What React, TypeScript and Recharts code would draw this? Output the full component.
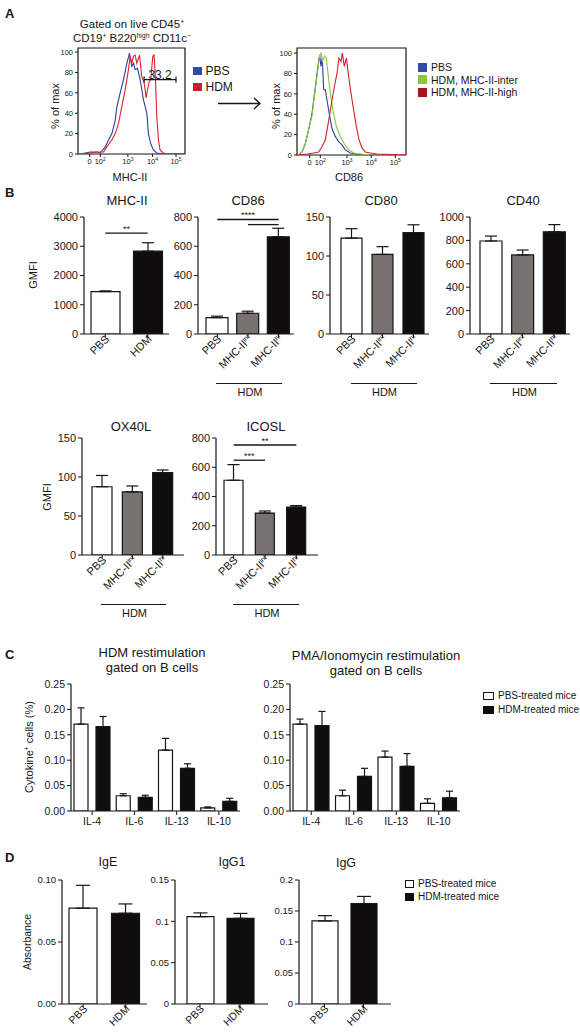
import { BarChart, Bar, XAxis, YAxis, ErrorBar, Cell, ReferenceLine, ReferenceArea, LineChart, Line } from "recharts"

const FONT = "'Liberation Sans', Arial, Helvetica, sans-serif"
const INK = "#161616"
const WHITE = "#ffffff"
const GREY = "#77716f"
const BLACK = "#0f0e0c"

// ---------- A: flow histograms ----------
// x = position along the biexponential axis (0-100 of plot width), y = % of max
const logLabels = ["0", "2", "3", "4", "5"]
const mhcTickPos = [10.9, 20.8, 46.6, 69.6, 91.6]
const cd86TickPos = [11.6, 21.4, 45.9, 68.0, 90.2]
const pctTicks = [0, 20, 40, 60, 80, 100]

const mhcPbsX = [0, 2.2, 11.5, 17.7, 20.8, 25.5, 28.6, 31.7, 34.8, 36.3, 39.4, 42.5, 45.7, 48.1, 50.3, 51.9, 53.4, 55.6, 58.1, 61.2, 64.3, 65.8, 68.0, 70.5, 73.6, 79.8, 100]
const mhcPbsY = [0, 0, 2, 2, 1, 7, 14, 20, 33, 46, 60, 73, 89, 99, 86, 89, 83, 84, 73, 53, 40, 20, 10, 4, 1, 0, 0]
const mhcHdmX = [0, 2.2, 11.5, 17.7, 23.9, 27.0, 31.7, 34.8, 37.9, 41.0, 44.1, 47.2, 48.8, 50.3, 51.9, 53.4, 55.0, 57.5, 59.6, 61.8, 63.7, 64.9, 66.5, 68.0, 69.9, 71.1, 72.4, 73.6, 75.2, 76.7, 79.8, 82.9, 100]
const mhcHdmY = [0, 0, 1, 2, 2, 7, 14, 20, 30, 47, 63, 83, 96, 89, 96, 97, 89, 97, 76, 70, 55, 63, 71, 73, 96, 97, 73, 37, 14, 4, 1, 0, 0]

const cdPbsX = [0, 1.5, 4.6, 7.6, 10.7, 13.8, 15.3, 17.7, 19.9, 20.8, 22.0, 23.2, 24.5, 26.0, 27.5, 30.0, 32.1, 35.2, 38.2, 41.3, 44.3, 48.9, 55.0, 64.2, 100]
const cdPbsY = [0, 0, 3, 11, 25, 41, 54, 74, 93, 98, 87, 95, 64, 64, 54, 38, 26, 18, 13, 10, 5, 2, 1, 0, 0]
const cdIntX = [0, 1.5, 4.6, 7.6, 10.7, 13.8, 15.9, 18.3, 20.8, 22.0, 23.5, 25.1, 26.9, 29.1, 30.6, 33.0, 36.1, 39.8, 43.4, 47.4, 52.0, 58.1, 67.3, 100]
const cdIntY = [0, 0, 3, 11, 25, 39, 57, 77, 98, 100, 92, 97, 95, 74, 61, 44, 28, 18, 11, 5, 2, 1, 0, 0]
const cdHiX = [0, 1.5, 9.2, 15.3, 19.9, 22.9, 26.0, 29.1, 32.1, 34.3, 36.7, 38.5, 40.4, 41.6, 43.4, 45.3, 47.4, 49.5, 52.0, 54.4, 56.9, 59.6, 62.7, 67.3, 73.4, 100]
const cdHiY = [0, 0, 1, 2, 3, 8, 15, 34, 54, 67, 80, 95, 92, 100, 87, 95, 77, 61, 44, 28, 15, 7, 3, 2, 1, 0]

const gateFrom = 61.8
const gateTo = 91.6
const gateAt = 73
const gateLabel = "33.2"

// ---------- B: GMFI ----------
const twoCats = ["PBS", "HDM"]
const threeCats = ["PBS", "MHC-II|int", "MHC-II|hi"]
const fill2 = [WHITE, BLACK]
const fill3 = [WHITE, GREY, BLACK]

const mhcMean = [1450, 2830]
const mhcSem = [25, 290]
const cd86Mean = [112, 142, 665]
const cd86Sem = [10, 14, 58]
const cd80Mean = [123, 102, 130]
const cd80Sem = [12, 10, 10]
const cd40Mean = [795, 676, 873]
const cd40Sem = [42, 42, 62]
const ox40Mean = [87.5, 81, 105.5]
const ox40Sem = [14.5, 7.5, 3.5]
const icosMean = [511, 287, 328]
const icosSem = [107, 14, 10]

// ---------- C: cytokine+ B cells ----------
const ilCats = ["IL-4", "IL-6", "IL-13", "IL-10"]
const hdmRePbs = [0.171, 0.030, 0.120, 0.006]
const hdmRePbsSem = [0.032, 0.004, 0.023, 0.002]
const hdmReHdm = [0.166, 0.027, 0.084, 0.019]
const hdmReHdmSem = [0.020, 0.004, 0.009, 0.006]
const pmaRePbs = [0.171, 0.030, 0.106, 0.015]
const pmaRePbsSem = [0.010, 0.011, 0.012, 0.009]
const pmaReHdm = [0.168, 0.068, 0.088, 0.026]
const pmaReHdmSem = [0.028, 0.016, 0.025, 0.013]
const cTicks = [0, 0.05, 0.1, 0.15, 0.2, 0.25]

// ---------- D: absorbance ----------
const igeMean = [0.0773, 0.0732]
const igeSem = [0.0184, 0.0075]
const igg1Mean = [0.1056, 0.1036]
const igg1Sem = [0.0046, 0.006]
const iggMean = [0.134, 0.162]
const iggSem = [0.0085, 0.0115]

const pts = (xs: number[], ys: number[]) => xs.map((x, i) => ({ x, y: ys[i] }))

function Txt({ x, y, s = 11, left = false, rot = 0, bold = false, children }: any) {
    return (
        <div style={{
            position: "absolute", left: x, top: y, fontSize: s, fontWeight: bold ? 700 : 400, lineHeight: 1,
            whiteSpace: "nowrap", transform: `translate(${left ? "0" : "-50%"},-50%) rotate(${rot}deg)`
        }}>{children}</div>
    )
}
const Sup = ({ children }: any) => <span style={{ fontSize: "0.6em", position: "relative", top: "-0.55em" }}>{children}</span>

function Key({ x, y, color, label, s = 11, size = 8, w = size, border = false }: any) {
    return (
        <>
            <div style={{
                position: "absolute", left: x, top: y - size / 2, width: w, height: size, background: color,
                boxSizing: "border-box", border: border ? `1px solid ${INK}` : "none"
            }} />
            <Txt x={x + w + 4} y={y} s={s} left>{label}</Txt>
        </>
    )
}

const powTick = (pos: number[]) => (props: any) => {
    const { x, y, payload } = props
    const e = logLabels[pos.indexOf(payload.value)]
    return (
        <text x={x} y={y + 5} textAnchor="middle" fontSize={7.5} fill={INK} fontFamily={FONT}>
            {e === "0" ? "0" : <>10<tspan fontSize={5} dy={-3}>{e}</tspan></>}
        </text>
    )
}

function Histo({ plot, yTop, tickPos, curves, withGate = false }: any) {
    const [x, y, w, h] = plot
    const L = 26, T = 4, R = 4, B = 18
    return (
        <div style={{ position: "absolute", left: x - L, top: y - T }}>
            <LineChart width={L + w + R} height={T + h + B} margin={{ top: T, right: R, bottom: 0, left: 0 }}>
                <XAxis type="number" dataKey="x" domain={[0, 100]} ticks={tickPos} tick={powTick(tickPos)} tickSize={3}
                    axisLine={false} tickLine={{ stroke: INK }} height={B} interval={0} allowDataOverflow />
                <YAxis type="number" domain={[0, yTop]} ticks={pctTicks} width={L} tickSize={3} axisLine={false}
                    tickLine={{ stroke: INK }} tick={{ fontSize: 7.5, fill: INK, fontFamily: FONT }} interval={0} allowDataOverflow />
                <ReferenceArea x1={0} x2={100} y1={0} y2={yTop} fill="none" stroke={INK} strokeWidth={1.2} />
                {curves.map((c: any) => (
                    <Line key={c.name} data={c.data} dataKey="y" type="linear" stroke={c.color} strokeWidth={1.1}
                        dot={false} isAnimationActive={false} />
                ))}
                {withGate && <>
                    <ReferenceLine segment={[{ x: gateFrom, y: gateAt }, { x: gateTo, y: gateAt }]} stroke={INK} strokeWidth={1.3}
                        label={{ value: gateLabel, position: "top", fontSize: 12, fill: INK, offset: 1 }} />
                    <ReferenceLine segment={[{ x: gateFrom, y: gateAt - 3 }, { x: gateFrom, y: gateAt + 3 }]} stroke={INK} strokeWidth={1.2} />
                    <ReferenceLine segment={[{ x: gateTo, y: gateAt - 3 }, { x: gateTo, y: gateAt + 3 }]} stroke={INK} strokeWidth={1.2} />
                </>}
            </LineChart>
        </div>
    )
}

const rotTick = (fs: number) => (props: any) => {
    const { x, y, payload } = props
    const [base, sup] = String(payload.value).split("|")
    return (
        <g transform={`translate(${x + 2},${y - 1})`}>
            <text transform="rotate(-45)" textAnchor="end" fontSize={fs} fill={INK} fontFamily={FONT} dy="0.35em">
                {base}{sup && <tspan fontSize={fs * 0.6} dy={-fs * 0.35}>{sup}</tspan>}
            </text>
        </g>
    )
}

type Group = { values: number[]; sem: number[]; fills: string[] }
type Sig = { from: number; to: number; y: number; stars: string }

function BarPanel(p: {
    plot: number[]; cats: string[]; groups: Group[]; yMax: number; yTicks: number[]; fmt?: (v: number) => string
    barSize: number; barGap?: number; padL?: number; padR?: number; rotate?: boolean; sig?: Sig[]
    cap?: number; tickFs?: number; catFs?: number; hdm?: boolean
}) {
    const [x, y, w, h] = p.plot
    const L = 44, T = 12, R = 8, B = 70
    const padL = p.padL ?? 0, padR = p.padR ?? 0
    const data = p.cats.map((c, i) => {
        const row: Record<string, any> = { cat: c }
        p.groups.forEach((g, j) => { row["v" + j] = g.values[i]; row["e" + j] = [0, g.sem[i]] })
        return row
    })
    const band = (w - padL - padR) / p.cats.length
    const mid = (i: number) => x + padL + band * (i + 0.5)
    const tickFs = p.tickFs ?? 11
    const catFs = p.catFs ?? 11
    return (
        <>
            <div style={{ position: "absolute", left: x - L, top: y - T }}>
                <BarChart width={L + w + R} height={T + h + B} data={data} margin={{ top: T, right: R, bottom: 0, left: 0 }}
                    barGap={p.barGap ?? 4}>
                    <XAxis dataKey="cat" type="category" interval={0} height={B} tickSize={4} tickMargin={p.rotate ? 0 : 3}
                        padding={{ left: padL, right: padR }}
                        axisLine={{ stroke: INK, strokeWidth: 1.2 }} tickLine={{ stroke: INK }}
                        tick={p.rotate ? rotTick(catFs) : { fontSize: catFs, fill: INK, fontFamily: FONT }} />
                    <YAxis type="number" domain={[0, p.yMax]} ticks={p.yTicks} tickFormatter={p.fmt} width={L} interval={0}
                        tickSize={4} tickMargin={2} allowDataOverflow axisLine={{ stroke: INK, strokeWidth: 1.2 }}
                        tickLine={{ stroke: INK }} tick={{ fontSize: tickFs, fill: INK, fontFamily: FONT }} />
                    {p.groups.map((g, j) => (
                        <Bar key={j} dataKey={"v" + j} barSize={p.barSize} stroke={INK} strokeWidth={1.2} isAnimationActive={false}>
                            {p.cats.map((c, i) => <Cell key={c} fill={g.fills[i]} />)}
                            <ErrorBar dataKey={"e" + j} direction="y" width={p.cap ?? 6} stroke={INK} strokeWidth={1.2} />
                        </Bar>
                    ))}
                    {(p.sig ?? []).map((s, k) => (
                        <ReferenceLine key={k} segment={[{ x: p.cats[s.from], y: s.y }, { x: p.cats[s.to], y: s.y }]}
                            stroke={INK} strokeWidth={1.3}
                            label={s.stars ? { value: s.stars, position: "top", fontSize: 9, fill: INK, offset: 1 } : undefined} />
                    ))}
                </BarChart>
            </div>
            {p.hdm && <>
                <div style={{ position: "absolute", left: mid(0) - 1, top: y + h + 49, width: mid(2) - mid(0) + 4, borderTop: `1px solid ${INK}` }} />
                <Txt x={(mid(0) + mid(2)) / 2 + 2} y={y + h + 58} s={11}>HDM</Txt>
            </>}
        </>
    )
}

const one = (values: number[], sem: number[], fills: string[]): Group[] => [{ values, sem, fills }]
const pair = (a: number[], aSem: number[], b: number[], bSem: number[]): Group[] => [
    { values: a, sem: aSem, fills: a.map(() => WHITE) },
    { values: b, sem: bSem, fills: b.map(() => BLACK) },
]

export default function App() {
    return (
        <div style={{ position: "absolute", left: 0, top: 0, width: 580, height: 1035, background: "#fff", fontFamily: FONT, color: INK, overflow: "hidden" }}>
            {/* A */}
            <Txt x={5} y={12.5} s={13} bold left>A</Txt>
            <Txt x={132} y={25} s={11.5}>Gated on live CD45<Sup>+</Sup></Txt>
            <Txt x={132} y={38.5} s={11.5}>CD19<Sup>+</Sup> B220<Sup>high</Sup> CD11c<Sup>−</Sup></Txt>
            <Histo plot={[78, 48, 107, 106]} yTop={104} tickPos={mhcTickPos} withGate
                curves={[
                    { name: "PBS", color: "#2c3f9f", data: pts(mhcPbsX, mhcPbsY) },
                    { name: "HDM", color: "#e0232b", data: pts(mhcHdmX, mhcHdmY) },
                ]} />
            <Txt x={55} y={106} s={11} rot={-90}>% of max</Txt>
            <Txt x={130} y={177} s={11}>MHC-II</Txt>
            <Key x={193} y={71} color="#2f4da6" label="PBS" s={12} size={8.5} />
            <Key x={193} y={87} color="#c4202a" label="HDM" s={12} size={8.5} />
            <svg style={{ position: "absolute", left: 214, top: 96 }} width={50} height={16}>
                <line x1={4} y1={7.5} x2={46} y2={7.5} stroke={INK} strokeWidth={1.3} />
                <polyline points="40,2 46,7.5 40,13" fill="none" stroke={INK} strokeWidth={1.3} />
            </svg>
            <Histo plot={[297, 48, 109, 107]} yTop={105} tickPos={cd86TickPos}
                curves={[
                    { name: "PBS", color: "#2c3f9f", data: pts(cdPbsX, cdPbsY) },
                    { name: "inter", color: "#8cc63f", data: pts(cdIntX, cdIntY) },
                    { name: "high", color: "#d42129", data: pts(cdHiX, cdHiY) },
                ]} />
            <Txt x={276} y={106} s={11} rot={-90}>% of max</Txt>
            <Txt x={349} y={177} s={11}>CD86</Txt>
            <Key x={418} y={67} color="#2f4da6" label="PBS" s={10.5} size={9} />
            <Key x={418} y={79.5} color="#8cc63f" label="HDM, MHC-II-inter" s={10.5} size={9} />
            <Key x={418} y={92} color="#a3151d" label="HDM, MHC-II-high" s={10.5} size={9} />

            {/* B */}
            <Txt x={5} y={192} s={13} bold left>B</Txt>
            <Txt x={127} y={200} s={13}>MHC-II</Txt>
            <Txt x={248} y={200} s={13}>CD86</Txt>
            <Txt x={381} y={200} s={13}>CD80</Txt>
            <Txt x={523} y={200} s={13}>CD40</Txt>
            <Txt x={33} y={275} s={11} rot={-90}>GMFI</Txt>
            <BarPanel plot={[84, 217, 85, 117]} cats={twoCats} groups={one(mhcMean, mhcSem, fill2)} yMax={4000}
                yTicks={[0, 1000, 2000, 3000, 4000]} barSize={29} rotate sig={[{ from: 0, to: 1, y: 3450, stars: "**" }]} />
            <BarPanel plot={[198, 217, 96, 117]} cats={threeCats} groups={one(cd86Mean, cd86Sem, fill3)} yMax={800}
                yTicks={[0, 200, 400, 600, 800]} barSize={22} padL={4} rotate hdm
                sig={[{ from: 0, to: 2, y: 783, stars: "****" }, { from: 1, to: 2, y: 748, stars: "" }]} />
            <BarPanel plot={[330, 217, 99, 117]} cats={threeCats} groups={one(cd80Mean, cd80Sem, fill3)} yMax={150}
                yTicks={[0, 50, 100, 150]} barSize={21} padL={6} rotate hdm />
            <BarPanel plot={[470, 217, 100, 117]} cats={threeCats} groups={one(cd40Mean, cd40Sem, fill3)} yMax={1000}
                yTicks={[0, 200, 400, 600, 800, 1000]} barSize={22} padL={5} rotate hdm />

            <Txt x={131} y={426} s={13}>OX40L</Txt>
            <Txt x={266} y={426} s={13}>ICOSL</Txt>
            <Txt x={47} y={497} s={11} rot={-90}>GMFI</Txt>
            <BarPanel plot={[82, 438, 102, 117]} cats={threeCats} groups={one(ox40Mean, ox40Sem, fill3)} yMax={150}
                yTicks={[0, 50, 100, 150]} barSize={20} padL={5} padR={6} rotate hdm />
            <BarPanel plot={[216, 438, 102, 117]} cats={threeCats} groups={one(icosMean, icosSem, fill3)} yMax={800}
                yTicks={[0, 200, 400, 600, 800]} barSize={19} padL={2} padR={6} rotate hdm
                sig={[{ from: 0, to: 1, y: 648, stars: "***" }, { from: 0, to: 2, y: 752, stars: "**" }]} />

            {/* C */}
            <Txt x={5} y={654} s={13} bold left>C</Txt>
            <Txt x={152} y={652} s={13}>HDM restimulation</Txt>
            <Txt x={152} y={667} s={13}>gated on B cells</Txt>
            <Txt x={376} y={655} s={13}>PMA/Ionomycin restimulation</Txt>
            <Txt x={376} y={670} s={13}>gated on B cells</Txt>
            <Txt x={29} y={747} s={11} rot={-90}>Cytokine<Sup>+</Sup> cells (%)</Txt>
            <BarPanel plot={[71, 684, 169, 127]} cats={ilCats} groups={pair(hdmRePbs, hdmRePbsSem, hdmReHdm, hdmReHdmSem)}
                yMax={0.25} yTicks={cTicks} fmt={(v) => v.toFixed(2)} barSize={14} barGap={8} cap={3.5} tickFs={10.5} catFs={10.5} />
            <BarPanel plot={[290, 684, 170, 127]} cats={ilCats} groups={pair(pmaRePbs, pmaRePbsSem, pmaReHdm, pmaReHdmSem)}
                yMax={0.25} yTicks={cTicks} fmt={(v) => v.toFixed(2)} barSize={14} barGap={8} cap={3.5} tickFs={10.5} catFs={10.5} />
            <Key x={483} y={696} color={WHITE} border label="PBS-treated mice" s={10} size={8} w={11} />
            <Key x={483} y={709.5} color={BLACK} label="HDM-treated mice" s={10} size={8} w={11} />

            {/* D */}
            <Txt x={5} y={857} s={13} bold left>D</Txt>
            <Txt x={108} y={862} s={12.5}>IgE</Txt>
            <Txt x={232} y={862} s={12.5}>IgG1</Txt>
            <Txt x={346} y={863} s={12.5}>IgG</Txt>
            <Txt x={27} y={942} s={10.5} rot={-90}>Absorbance</Txt>
            <BarPanel plot={[62, 880, 85, 124]} cats={twoCats} groups={one(igeMean, igeSem, fill2)} yMax={0.1}
                yTicks={[0, 0.05, 0.1]} fmt={(v) => v.toFixed(2)} barSize={28} cap={7} tickFs={9.5} catFs={10.5} rotate />
            <BarPanel plot={[175, 880, 93, 124]} cats={twoCats} groups={one(igg1Mean, igg1Sem, fill2)} yMax={0.15}
                yTicks={[0, 0.05, 0.1, 0.15]} fmt={(v) => String(v)} barSize={27} padL={5} padR={8} cap={7} tickFs={9.5} catFs={10.5} rotate />
            <BarPanel plot={[299, 880, 92, 124]} cats={twoCats} groups={one(iggMean, iggSem, fill2)} yMax={0.2}
                yTicks={[0, 0.05, 0.1, 0.15, 0.2]} fmt={(v) => String(v)} barSize={26} padL={6} padR={8} cap={7} tickFs={9.5} catFs={10.5} rotate />
            <Key x={405} y={884} color={WHITE} border label="PBS-treated mice" s={10} size={8} w={9} />
            <Key x={405} y={897} color={BLACK} label="HDM-treated mice" s={10} size={8} w={9} />
        </div>
    )
}
